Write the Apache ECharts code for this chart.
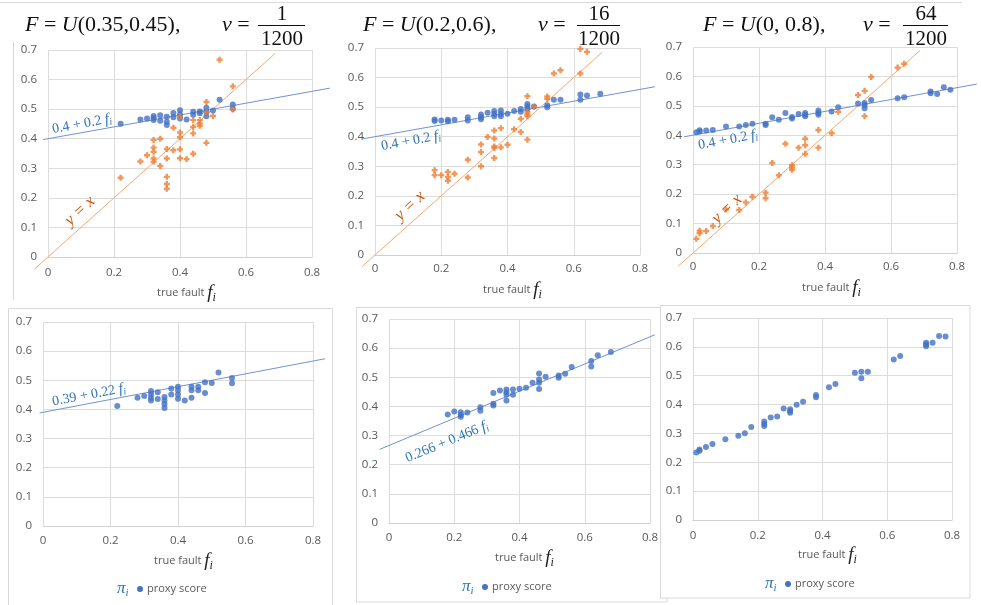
<!DOCTYPE html>
<html><head><meta charset="utf-8">
<script src="https://cdn.jsdelivr.net/npm/echarts@6/dist/echarts.min.js"></script>
<style>html,body{margin:0;padding:0;background:#fff}#c{width:981px;height:605px}</style>
</head><body><div id="c"></div>
<script>
// ---------- tick labels ----------
const xTickLabels = ['0', '0.2', '0.4', '0.6', '0.8'];
const yTickLabels = ['0', '0.1', '0.2', '0.3', '0.4', '0.5', '0.6', '0.7'];

// ---------- panel 1 : F = U(0.35,0.45), v = 1/1200 ----------
const p1Proxy = [[0.22,0.451],[0.28,0.465],[0.30,0.468],[0.32,0.477],[0.32,0.470],[0.32,0.463],[0.34,0.479],[0.34,0.461],[0.36,0.474],[0.36,0.457],[0.36,0.446],[0.38,0.487],[0.38,0.473],[0.40,0.496],[0.40,0.482],[0.40,0.468],[0.42,0.465],[0.44,0.491],[0.44,0.481],[0.46,0.492],[0.46,0.486],[0.48,0.505],[0.48,0.492],[0.48,0.476],[0.50,0.495],[0.52,0.532],[0.56,0.516],[0.56,0.501]];
const p1Observed = [[0.22,0.268],[0.28,0.323],[0.30,0.344],[0.32,0.396],[0.32,0.370],[0.32,0.356],[0.32,0.333],[0.32,0.322],[0.34,0.400],[0.34,0.308],[0.36,0.365],[0.36,0.333],[0.36,0.271],[0.36,0.247],[0.36,0.231],[0.38,0.437],[0.38,0.361],[0.40,0.474],[0.40,0.421],[0.40,0.405],[0.40,0.364],[0.40,0.334],[0.42,0.331],[0.44,0.463],[0.44,0.440],[0.44,0.418],[0.44,0.349],[0.46,0.463],[0.46,0.452],[0.46,0.444],[0.48,0.524],[0.48,0.490],[0.48,0.386],[0.50,0.477],[0.52,0.667],[0.56,0.577],[0.56,0.499]];
const p1Fit = [[-0.015,0.397],[0.854,0.571]];
const p1Identity = [[-0.04,-0.04],[0.688,0.688]];

// ---------- panel 2 : F = U(0.2,0.6), v = 16/1200 ----------
const p2Proxy = [[0.18,0.458],[0.18,0.453],[0.20,0.455],[0.22,0.457],[0.22,0.452],[0.24,0.457],[0.28,0.466],[0.28,0.455],[0.32,0.475],[0.32,0.466],[0.32,0.459],[0.34,0.481],[0.36,0.487],[0.36,0.478],[0.36,0.469],[0.38,0.489],[0.38,0.478],[0.38,0.469],[0.40,0.478],[0.42,0.487],[0.44,0.494],[0.44,0.484],[0.46,0.511],[0.46,0.502],[0.46,0.494],[0.48,0.502],[0.52,0.506],[0.52,0.500],[0.54,0.525],[0.56,0.525],[0.62,0.543],[0.62,0.525],[0.64,0.539],[0.68,0.545]];
const p2Observed = [[0.18,0.287],[0.18,0.270],[0.20,0.270],[0.22,0.281],[0.22,0.264],[0.22,0.251],[0.24,0.275],[0.28,0.322],[0.28,0.262],[0.32,0.374],[0.32,0.348],[0.32,0.300],[0.34,0.399],[0.36,0.421],[0.36,0.394],[0.36,0.367],[0.36,0.362],[0.36,0.328],[0.38,0.429],[0.38,0.364],[0.40,0.373],[0.42,0.425],[0.44,0.461],[0.44,0.416],[0.46,0.537],[0.46,0.484],[0.46,0.476],[0.46,0.469],[0.46,0.390],[0.48,0.501],[0.52,0.536],[0.52,0.528],[0.54,0.614],[0.56,0.625],[0.62,0.697],[0.62,0.614],[0.64,0.687]];
const p2Fit = [[-0.036,0.393],[0.845,0.569]];
const p2Identity = [[-0.039,-0.039],[0.685,0.685]];

// ---------- panel 3 : F = U(0,0.8), v = 64/1200 ----------
const p3Proxy = [[0.01,0.410],[0.02,0.413],[0.02,0.417],[0.04,0.416],[0.06,0.418],[0.10,0.430],[0.14,0.430],[0.16,0.435],[0.18,0.439],[0.22,0.439],[0.22,0.435],[0.24,0.461],[0.26,0.453],[0.28,0.476],[0.30,0.462],[0.30,0.457],[0.32,0.472],[0.34,0.476],[0.34,0.470],[0.34,0.465],[0.38,0.484],[0.38,0.476],[0.38,0.470],[0.42,0.481],[0.44,0.495],[0.50,0.508],[0.52,0.510],[0.52,0.503],[0.52,0.492],[0.54,0.520],[0.62,0.526],[0.64,0.529],[0.72,0.549],[0.72,0.543],[0.74,0.540],[0.76,0.563],[0.78,0.555]];
const p3Observed = [[0.01,0.048],[0.02,0.076],[0.02,0.067],[0.04,0.075],[0.06,0.092],[0.10,0.148],[0.14,0.146],[0.16,0.172],[0.18,0.191],[0.22,0.205],[0.22,0.186],[0.24,0.306],[0.26,0.264],[0.28,0.371],[0.30,0.298],[0.30,0.290],[0.30,0.283],[0.32,0.358],[0.34,0.388],[0.34,0.366],[0.34,0.337],[0.38,0.418],[0.38,0.358],[0.42,0.407],[0.44,0.480],[0.50,0.537],[0.52,0.551],[0.52,0.465],[0.54,0.598],[0.62,0.630],[0.64,0.643]];
const p3Fit = [[-0.027,0.395],[0.86,0.574]];
const p3Identity = [[-0.045,-0.045],[0.688,0.688]];

// ---------- panel 4 : proxy score, F = U(0.35,0.45) ----------
const p4Proxy = [[0.22,0.412],[0.28,0.440],[0.30,0.446],[0.32,0.463],[0.32,0.452],[0.32,0.440],[0.32,0.431],[0.34,0.459],[0.34,0.436],[0.36,0.443],[0.36,0.431],[0.36,0.419],[0.36,0.405],[0.38,0.472],[0.38,0.451],[0.40,0.478],[0.40,0.466],[0.40,0.451],[0.40,0.437],[0.42,0.431],[0.44,0.478],[0.44,0.466],[0.44,0.440],[0.46,0.478],[0.46,0.466],[0.48,0.493],[0.48,0.456],[0.50,0.491],[0.52,0.527],[0.56,0.508],[0.56,0.490]];
const p4Fit = [[-0.01,0.388],[0.836,0.574]];

// ---------- panel 5 : proxy score, F = U(0.2,0.6) ----------
const p5Proxy = [[0.18,0.372],[0.20,0.383],[0.22,0.380],[0.22,0.371],[0.22,0.365],[0.24,0.379],[0.28,0.397],[0.28,0.385],[0.32,0.446],[0.32,0.409],[0.32,0.403],[0.34,0.455],[0.36,0.458],[0.36,0.449],[0.36,0.440],[0.36,0.420],[0.38,0.458],[0.38,0.440],[0.40,0.461],[0.42,0.464],[0.44,0.481],[0.46,0.513],[0.46,0.492],[0.46,0.481],[0.46,0.460],[0.48,0.502],[0.52,0.506],[0.52,0.498],[0.54,0.512],[0.56,0.535],[0.62,0.556],[0.62,0.537],[0.64,0.576],[0.68,0.587]];
const p5Fit = [[-0.029,0.2525],[0.815,0.646]];

// ---------- panel 6 : proxy score, F = U(0,0.8) ----------
const p6Proxy = [[0.01,0.234],[0.02,0.240],[0.02,0.244],[0.04,0.253],[0.06,0.263],[0.10,0.280],[0.14,0.292],[0.16,0.301],[0.18,0.322],[0.22,0.341],[0.22,0.333],[0.22,0.326],[0.24,0.355],[0.26,0.359],[0.28,0.386],[0.30,0.384],[0.30,0.378],[0.30,0.372],[0.32,0.399],[0.34,0.410],[0.38,0.433],[0.38,0.425],[0.42,0.460],[0.44,0.471],[0.50,0.510],[0.52,0.514],[0.52,0.491],[0.54,0.514],[0.62,0.556],[0.64,0.568],[0.72,0.614],[0.72,0.608],[0.72,0.602],[0.74,0.614],[0.76,0.638],[0.78,0.636]];

// ---------- layout ----------
const BLUE = '#4472C4', ORANGE = '#ED7D31';
const grids = [
  {left: 48, top: 50, width: 264, height: 207, lm: 10},
  {left: 375, top: 48, width: 265, height: 207, lm: 8},
  {left: 693, top: 47, width: 264, height: 206, lm: 8},
  {left: 43, top: 322, width: 270, height: 204, lm: 8.5},
  {left: 389, top: 319, width: 261, height: 204, lm: 8.5},
  {left: 693, top: 318, width: 259, height: 202, lm: 10}
];
const panels = [
  {proxy: p1Proxy, observed: p1Observed, fit: p1Fit, identity: p1Identity},
  {proxy: p2Proxy, observed: p2Observed, fit: p2Fit, identity: p2Identity},
  {proxy: p3Proxy, observed: p3Observed, fit: p3Fit, identity: p3Identity},
  {proxy: p4Proxy, fit: p4Fit},
  {proxy: p5Proxy, fit: p5Fit},
  {proxy: p6Proxy}
];

const labelFont = '"Open Sans", "Noto Sans", sans-serif';
const xAxes = [], yAxes = [], series = [];

function segmentSeries(i, seg, color) {
  return {
    type: 'custom', xAxisIndex: i, yAxisIndex: i, data: seg, clip: false, silent: true, z: 1,
    renderItem: (params, api) => {
      if (params.dataIndex !== 0) return null;
      const a = api.coord(seg[0]), b = api.coord(seg[1]);
      return {type: 'line', shape: {x1: a[0], y1: a[1], x2: b[0], y2: b[1]},
        style: {stroke: color, lineWidth: 1, fill: null}};
    }
  };
}

grids.forEach((g, i) => {
  xAxes.push({
    type: 'value', gridIndex: i, min: 0, max: 0.8, interval: 0.2,
    axisLine: {show: true, lineStyle: {color: '#d0d0d0', width: 1}},
    axisTick: {show: false},
    splitLine: {show: true, lineStyle: {color: '#dcdcdc', width: 1}},
    axisLabel: {color: '#595959', fontSize: 11.5, fontFamily: labelFont, margin: g.lm,
      formatter: v => xTickLabels[Math.round(v / 0.2)]}
  });
  yAxes.push({
    type: 'value', gridIndex: i, min: 0, max: 0.7, interval: 0.1,
    axisLine: {show: false}, axisTick: {show: false},
    splitLine: {show: true, lineStyle: {color: '#dcdcdc', width: 1}},
    axisLabel: {color: '#595959', fontSize: 11.5, fontFamily: labelFont, margin: 11,
      formatter: v => yTickLabels[Math.round(v / 0.1)]}
  });
  const p = panels[i];
  if (p.fit) series.push(segmentSeries(i, p.fit, '#6F93D3'));
  if (p.identity) series.push(segmentSeries(i, p.identity, '#F4A872'));
  series.push({type: 'scatter', name: 'proxy score', xAxisIndex: i, yAxisIndex: i, data: p.proxy,
    symbol: 'circle', symbolSize: 6, itemStyle: {color: BLUE}, z: 3, silent: true});
  if (p.observed) series.push({type: 'scatter', xAxisIndex: i, yAxisIndex: i, data: p.observed,
    symbol: 'path://M3,0H7V3H10V7H7V10H3V7H0V3H3Z', symbolSize: 6, itemStyle: {color: ORANGE}, z: 4, silent: true});
});

// ---------- decorations (text / frames) ----------
const serif = '"Liberation Serif", "DejaVu Serif", serif';
const gfx = [];
const line = (x1, y1, x2, y2, z) => gfx.push({type: 'line', z: z || -5, silent: true,
  shape: {x1, y1, x2, y2}, style: {stroke: '#d9d9d9', lineWidth: 1}});
// frames
line(0, 2.5, 962, 2.5);
line(13.5, 42, 13.5, 300);
gfx.push({type: 'rect', z: -6, silent: true, shape: {x: 8.5, y: 308.5, width: 324, height: 310}, style: {fill: '#fff', stroke: '#d9d9d9', lineWidth: 1}});
gfx.push({type: 'rect', z: -5, silent: true, shape: {x: 356.5, y: 307.5, width: 310.5, height: 294.5}, style: {fill: '#fff', stroke: '#d9d9d9', lineWidth: 1}});
gfx.push({type: 'rect', z: -4, silent: true, shape: {x: 660.5, y: 305.5, width: 309.5, height: 292.5}, style: {fill: '#fff', stroke: '#d9d9d9', lineWidth: 1}});

const txt = (text, x, y, style) => gfx.push({type: 'text', z: 20, silent: true, x, y,
  style: Object.assign({text, align: 'left', verticalAlign: 'middle'}, style)});

// titles
const titleRich = {i: {fontStyle: 'italic', fontFamily: serif, fontSize: 22, fill: '#111'}, n: {fontFamily: serif, fontSize: 22, fill: '#111'}};
const titles = [
  {t: '{i|F}{n| = }{i|U}{n|(0.35,0.45),}', x: 25, vx: 222, num: '1', cx: 282, bx1: 258, bx2: 305},
  {t: '{i|F}{n| = }{i|U}{n|(0.2,0.6),}', x: 363, vx: 538, num: '16', cx: 599, bx1: 577, bx2: 620},
  {t: '{i|F}{n| = }{i|U}{n|(0, 0.8),}', x: 703, vx: 863, num: '64', cx: 926, bx1: 903, bx2: 948}
];
titles.forEach(t => {
  txt(t.t, t.x, 25, {rich: titleRich});
  txt('{i|v}{n| =}', t.vx, 25, {rich: titleRich});
  txt(t.num, t.cx, 14, {align: 'center', font: '21px ' + serif, fill: '#111'});
  txt('1200', t.cx, 39, {align: 'center', font: '21px ' + serif, fill: '#111'});
  gfx.push({type: 'line', z: 20, silent: true, shape: {x1: t.bx1, y1: 25.5, x2: t.bx2, y2: 25.5}, style: {stroke: '#111', lineWidth: 1.2}});
});

// axis names "true fault f_i"
const nameRich = {
  a: {fontFamily: labelFont, fontSize: 11, fill: '#595959'},
  f: {fontFamily: serif, fontStyle: 'italic', fontSize: 19, fill: '#222'},
  s: {fontFamily: serif, fontStyle: 'italic', fontSize: 12, fill: '#222', padding: [9, 0, 0, 0]}
};
const axisNames = [[157, 293], [483, 290], [802, 288], [154, 561], [495, 558], [798, 555]];
axisNames.forEach(([x, y]) => txt('{a|true fault }{f|f}{s|i}', x, y, {rich: nameRich}));

// legends  "π_i ● proxy score"
const legRich = {
  p: {fontFamily: serif, fontStyle: 'italic', fontSize: 17, fill: '#2E75B6'},
  s: {fontFamily: serif, fontStyle: 'italic', fontSize: 11, fill: '#2E75B6', padding: [8, 0, 0, 0]}
};
const legends = [[117, 589], [462, 587], [765, 584]];
legends.forEach(([x, y]) => {
  txt('{p|π}{s|i}', x, y, {rich: legRich});
  gfx.push({type: 'circle', z: 20, silent: true, shape: {cx: x + 23, cy: y, r: 3}, style: {fill: BLUE}});
  txt('proxy score', x + 30, y, {font: '11px ' + labelFont, fill: '#595959'});
});

// annotations on lines
const blueRich = {n: {fontFamily: serif, fontSize: 14, fill: '#2E75B6'},
  f: {fontFamily: serif, fontStyle: 'italic', fontSize: 15, fill: '#2E75B6'},
  s: {fontFamily: serif, fontStyle: 'italic', fontSize: 10, fill: '#2E75B6', padding: [7, 0, 0, 0]}};
const deg = Math.PI / 180;
const ann = (text, x, y, rotDeg, rich) => gfx.push({type: 'text', z: 20, silent: true, x, y, rotation: rotDeg * deg,
  style: {text, rich, align: 'center', verticalAlign: 'middle'}});
ann('{n|0.4 + 0.2 }{f|f}{s|i}', 82, 124, 10.5, blueRich);
ann('{n|0.4 + 0.2 }{f|f}{s|i}', 411, 141, 10.5, blueRich);
ann('{n|0.4 + 0.2 }{f|f}{s|i}', 728, 140, 10.5, blueRich);
ann('{n|0.39 + 0.22 }{f|f}{s|i}', 89, 395, 10.5, blueRich);
ann('{n|0.266 + 0.466 }{f|f}{s|i}', 447, 442, 22.5, blueRich);
const orangeStyle = {font: 'italic 17px ' + serif, fill: '#C55A11'};
[[80, 211], [410, 206], [727, 209]].forEach(([x, y]) => gfx.push({type: 'text', z: 20, silent: true, x, y,
  rotation: 43 * deg, style: Object.assign({text: 'y = x', align: 'center', verticalAlign: 'middle'}, orangeStyle)}));

const chart = echarts.init(document.getElementById('c'), null, {renderer: 'canvas'});
chart.setOption({
  animation: false,
  backgroundColor: '#fff',
  grid: grids.map(g => ({left: g.left, top: g.top, width: g.width, height: g.height})),
  xAxis: xAxes, yAxis: yAxes, series, graphic: gfx
});
</script></body></html>
